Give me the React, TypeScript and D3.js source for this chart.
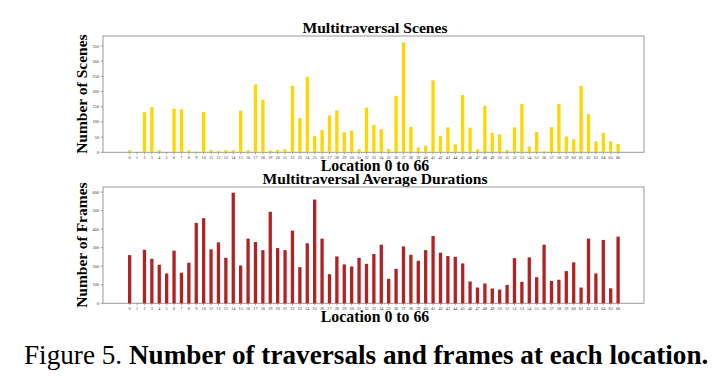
import React from "react";
import * as d3 from "d3";

const locations: number[] = d3.range(0, 67);

const scenes: number[] = [
  7, 0, 132, 149, 7, 0, 144, 141, 7, 2,
  133, 8, 4, 7, 7, 137, 7, 224, 173, 6,
  8, 10, 219, 113, 249, 53, 73, 121, 138, 66,
  72, 10, 147, 90, 76, 11, 186, 362, 84, 16,
  22, 237, 53, 82, 26, 189, 81, 10, 153, 64,
  59, 8, 82, 159, 19, 67, 4, 83, 159, 52,
  43, 219, 126, 36, 64, 36, 27,
];

const frames: number[] = [
  260, 0, 289, 240, 208, 161, 284, 165, 219, 434,
  459, 291, 329, 246, 597, 204, 349, 331, 287, 494,
  298, 287, 392, 195, 324, 560, 349, 157, 253, 210,
  199, 246, 213, 266, 316, 132, 186, 307, 262, 230,
  287, 363, 273, 255, 251, 215, 118, 85, 107, 80,
  74, 99, 244, 116, 248, 141, 316, 121, 127, 174,
  221, 85, 349, 161, 342, 81, 360,
];

const sceneTicks: number[] = [0, 50, 100, 150, 200, 250, 300, 350];
const frameTicks: number[] = [0, 100, 200, 300, 400, 500, 600];

const SERIF = "'Liberation Serif', 'Times New Roman', serif";

type PanelProps = {
  values: number[];
  ticks: number[];
  yMax: number;
  top: number;
  bottom: number;
  color: string;
  title: string;
  titleY: number;
  yLabel: string;
};

function Panel({ values, ticks, yMax, top, bottom, color, title, titleY, yLabel }: PanelProps) {
  const left = 103;
  const right = 644;
  const x = d3.scaleLinear().domain([-3.6, 69.5]).range([left, right]);
  const y = d3.scaleLinear().domain([0, yMax]).range([bottom, top]);
  const bw = 3.3;
  return (
    <g>
      <text x={375} y={titleY} textAnchor="middle" fontFamily={SERIF} fontWeight="bold" fontSize={15.6}>
        {title}
      </text>
      <rect x={left} y={top} width={right - left} height={bottom - top} fill="white" stroke="#9a9a9a" strokeWidth={1} />
      {values.map((v, i) => (
        <rect key={i} x={x(locations[i]) - bw / 2} y={y(v)} width={bw} height={Math.max(0, y(0) - y(v))} fill={color} />
      ))}
      {ticks.map((t) => (
        <g key={t}>
          <line x1={left - 2.5} x2={left} y1={y(t)} y2={y(t)} stroke="#555" strokeWidth={0.5} />
          <text x={left - 4} y={y(t) + 1.5} textAnchor="end" fontFamily={SERIF} fontSize={4.4} fill="#333">
            {t}
          </text>
        </g>
      ))}
      {locations.map((l) => (
        <g key={l}>
          <line x1={x(l)} x2={x(l)} y1={bottom} y2={bottom + 2} stroke="#555" strokeWidth={0.5} />
          <text x={x(l)} y={bottom + 6.3} textAnchor="middle" fontFamily={SERIF} fontSize={4.2} fill="#333">
            {l}
          </text>
        </g>
      ))}
      <text
        transform={`translate(${87},${(top + bottom) / 2}) rotate(-90)`}
        textAnchor="middle"
        fontFamily={SERIF}
        fontWeight="bold"
        fontSize={15.5}
      >
        {yLabel}
      </text>
      <text x={375} y={bottom + 18.8} textAnchor="middle" fontFamily={SERIF} fontWeight="bold" fontSize={15.8}>
        Location 0 to 66
      </text>
    </g>
  );
}

export default function App() {
  return (
    <svg width={726} height={389} style={{ position: "absolute", left: 0, top: 0, background: "white" }}>
      <rect x={0} y={0} width={726} height={389} fill="white" />
      <Panel
        values={scenes}
        ticks={sceneTicks}
        yMax={383}
        top={36}
        bottom={152.3}
        color="#FFD700"
        title="Multitraversal Scenes"
        titleY={33}
        yLabel="Number of Scenes"
      />
      <Panel
        values={frames}
        ticks={frameTicks}
        yMax={627.7}
        top={187}
        bottom={303.3}
        color="#B22222"
        title="Multitraversal Average Durations"
        titleY={184}
        yLabel="Number of Frames"
      />
      <text x={24} y={364} fontFamily={SERIF} fontSize={27.2}>
        Figure 5. <tspan fontWeight="bold">Number of traversals and frames at each location.</tspan>
      </text>
    </svg>
  );
}
